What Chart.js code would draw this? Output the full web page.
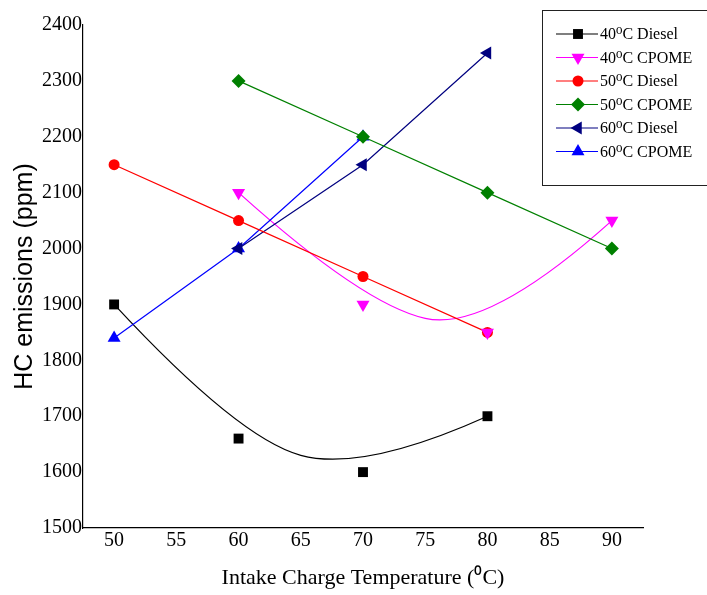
<!DOCTYPE html>
<html>
<head>
<meta charset="utf-8">
<script src="https://cdn.jsdelivr.net/npm/chart.js@4/dist/chart.umd.min.js"></script>
<style>
  html, body { margin: 0; padding: 0; background: #fff; }
  #wrap { width: 707px; height: 595px; }
</style>
</head>
<body>
<div id="wrap"><canvas id="c" width="707" height="595"></canvas></div>
<script>
// ---- data ----
const seriesLabels = ['40\u2070C Diesel', '40\u2070C CPOME', '50\u2070C Diesel', '50\u2070C CPOME', '60\u2070C Diesel', '60\u2070C CPOME'];
const diesel40X = [50, 60, 70, 80];
const diesel40Y = [1900, 1660, 1600, 1700];
const cpome40X = [60, 70, 80, 90];
const cpome40Y = [2100, 1900, 1850, 2050];
const diesel50X = [50, 60, 70, 80];
const diesel50Y = [2150, 2050, 1950, 1850];
const cpome50X = [60, 70, 80, 90];
const cpome50Y = [2300, 2200, 2100, 2000];
const diesel60X = [60, 70, 80];
const diesel60Y = [2000, 2150, 2350];
const cpome60X = [50, 60, 70];
const cpome60Y = [1840, 2000, 2200];
const xTicks = [50, 55, 60, 65, 70, 75, 80, 85, 90];
const yTicks = [1500, 1600, 1700, 1800, 1900, 2000, 2100, 2200, 2300, 2400];

function pts(xs, ys) { return xs.map((x, i) => ({ x: x, y: ys[i] })); }

const styles = [
  { color: '#000000', pointStyle: 'rect', radius: 7, rotation: 0, smooth: true },
  { color: '#FF00FF', pointStyle: 'triangle', radius: 7.5, rotation: 180, smooth: true },
  { color: '#FF0000', pointStyle: 'circle', radius: 5.5, rotation: 0, smooth: false },
  { color: '#008000', pointStyle: 'rectRot', radius: 7, rotation: 0, smooth: false },
  { color: '#000080', pointStyle: 'triangle', radius: 7.5, rotation: 270, smooth: false },
  { color: '#0000FF', pointStyle: 'triangle', radius: 7.5, rotation: 0, smooth: false }
];
const seriesData = [
  pts(diesel40X, diesel40Y), pts(cpome40X, cpome40Y), pts(diesel50X, diesel50Y),
  pts(cpome50X, cpome50Y), pts(diesel60X, diesel60Y), pts(cpome60X, cpome60Y)
];

const datasets = seriesData.map((d, i) => ({
  label: seriesLabels[i],
  data: d,
  borderColor: styles[i].color,
  backgroundColor: styles[i].color,
  pointBackgroundColor: styles[i].color,
  pointBorderColor: styles[i].color,
  pointStyle: styles[i].pointStyle,
  pointRadius: styles[i].radius,
  pointRotation: styles[i].rotation,
  pointBorderWidth: 0,
  pointHoverRadius: styles[i].radius,
  borderWidth: 1.2,
  showLine: !styles[i].smooth,
  tension: 0,
  smoothCurve: styles[i].smooth
}));

// Smooth (quadratic B-spline) connection through data points, drawn from scaled element positions
const smoothPlugin = {
  id: 'smoothPlugin',
  beforeDatasetsDraw(chart) {
    const ctx = chart.ctx;
    chart.data.datasets.forEach((ds, i) => {
      if (!ds.smoothCurve) return;
      const meta = chart.getDatasetMeta(i);
      const p = meta.data.map(e => ({ x: e.x, y: e.y }));
      if (p.length < 3) return;
      ctx.save();
      ctx.beginPath();
      ctx.strokeStyle = ds.borderColor;
      ctx.lineWidth = ds.borderWidth;
      ctx.moveTo(p[0].x, p[0].y);
      for (let k = 1; k < p.length - 1; k++) {
        const last = (k === p.length - 2);
        const end = last ? p[k + 1] : { x: (p[k].x + p[k + 1].x) / 2, y: (p[k].y + p[k + 1].y) / 2 };
        ctx.quadraticCurveTo(p[k].x, p[k].y, end.x, end.y);
      }
      ctx.stroke();
      ctx.restore();
    });
  }
};

// Boxed legend with line + marker samples
const boxLegend = {
  id: 'boxLegend',
  afterDraw(chart) {
    const ctx = chart.ctx;
    ctx.save();
    ctx.fillStyle = '#fff';
    ctx.fillRect(542.5, 10.5, 200, 175);
    ctx.strokeStyle = '#222';
    ctx.lineWidth = 1;
    ctx.strokeRect(542.5, 10.5, 200, 175);
    chart.data.datasets.forEach((ds, i) => {
      const y = 34 + i * 23.5;
      ctx.beginPath();
      ctx.strokeStyle = ds.borderColor;
      ctx.lineWidth = 1.2;
      ctx.moveTo(556, y);
      ctx.lineTo(598, y);
      ctx.stroke();
      ctx.fillStyle = ds.pointBackgroundColor;
      ctx.strokeStyle = ds.pointBorderColor;
      Chart.helpers.drawPoint(ctx, {
        pointStyle: ds.pointStyle, radius: ds.pointRadius, rotation: ds.pointRotation, borderWidth: 0
      }, 578, y);
      ctx.fillStyle = '#000';
      ctx.font = '16px "Liberation Serif", "DejaVu Serif", serif';
      ctx.textBaseline = 'middle';
      ctx.textAlign = 'left';
      ctx.fillText(ds.label, 600, y + 1);
    });
    ctx.restore();
  }
};

new Chart(document.getElementById('c'), {
  type: 'scatter',
  data: { datasets: datasets },
  plugins: [smoothPlugin, boxLegend],
  options: {
    responsive: false,
    animation: false,
    events: [],
    layout: { padding: { top: 25, right: 64, left: 0, bottom: 0 } },
    plugins: { legend: { display: false }, tooltip: { enabled: false } },
    scales: {
      x: {
        type: 'linear',
        min: 47.5,
        max: 92.5,
        afterBuildTicks(scale) { scale.ticks = xTicks.map(v => ({ value: v })); },
        afterFit(scale) { scale.height = 67; },
        grid: { display: false, drawTicks: false },
        border: { display: true, color: '#000', width: 1.2 },
        ticks: {
          color: '#000',
          padding: 1,
          autoSkip: false,
          maxRotation: 0,
          callback: (v) => String(v),
          font: { family: '"Liberation Serif", serif', size: 20 }
        },
        title: {
          display: true,
          text: 'Intake Charge Temperature (\u2070C)',
          color: '#000',
          padding: { top: 0, bottom: 4 },
          font: { family: '"Liberation Serif", serif', size: 22 }
        }
      },
      y: {
        type: 'linear',
        min: 1500,
        max: 2400,
        afterBuildTicks(scale) { scale.ticks = yTicks.map(v => ({ value: v })); },
        afterFit(scale) { scale.width = 83; },
        grid: { display: false, drawTicks: false },
        border: { display: true, color: '#000', width: 1.2 },
        ticks: {
          color: '#000',
          padding: 1,
          autoSkip: false,
          callback: (v) => String(v),
          font: { family: '"Liberation Serif", serif', size: 20 }
        },
        title: {
          display: true,
          text: 'HC emissions (ppm)',
          color: '#000',
          padding: { top: 10, bottom: 0 },
          font: { family: '"Liberation Sans", Arial, sans-serif', size: 25 }
        }
      }
    }
  }
});
</script>
</body>
</html>
